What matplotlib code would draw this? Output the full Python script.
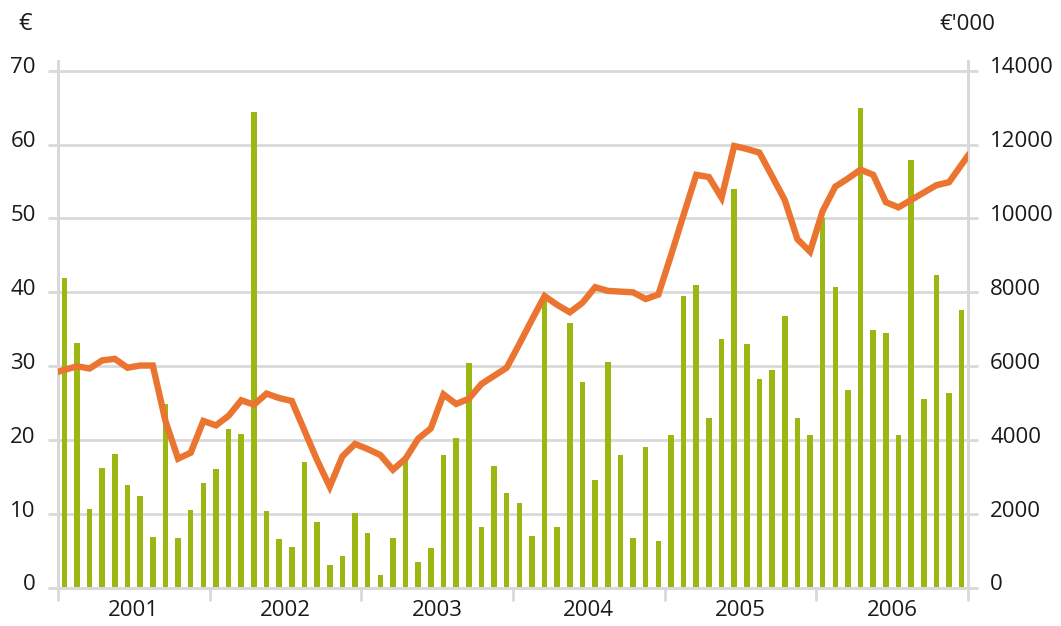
import numpy as np
import matplotlib.pyplot as plt
from matplotlib.transforms import offset_copy

years = ['2001', '2002', '2003', '2004', '2005', '2006']

# monthly volume, EUR '000 (right axis)
volume = [8400, 6640, 2130, 3260, 3620, 2780, 2480, 1390, 4970, 1360, 2120, 2830,
          3230, 4290, 4180, 12890, 2080, 1320, 1120, 3410, 1790, 630, 860, 2040,
          1500, 340, 1350, 3560, 710, 1070, 3590, 4050, 6100, 1650, 3310, 2580,
          2300, 1400, 7790, 1660, 7180, 5580, 2920, 6110, 3600, 1340, 3810, 1260,
          4130, 7900, 8200, 4600, 6730, 10800, 6590, 5650, 5900, 7370, 4600, 4140,
          10010, 8150, 5360, 13000, 6980, 6910, 4140, 11590, 5110, 8460, 5270, 7530]

# monthly price, EUR (left axis)
price = [29.5, 30.0, 29.7, 30.8, 31.0, 29.8, 30.1, 30.1, 22.6, 17.5, 18.3, 22.6,
         22.0, 23.3, 25.4, 24.8, 26.3, 25.7, 25.3, 21.3, 17.3, 13.7, 17.8, 19.5,
         18.8, 18.0, 16.0, 17.5, 20.2, 21.6, 26.2, 24.9, 25.6, 27.6, 28.7, 29.8,
         33.0, 36.3, 39.5, 38.3, 37.3, 38.6, 40.7, 40.2, 40.1, 40.0, 39.1, 39.7,
         45.0, 50.5, 55.9, 55.6, 52.8, 59.8, 59.4, 58.9, 55.7, 52.5, 47.2, 45.5,
         51.0, 54.3, 55.4, 56.6, 55.9, 52.2, 51.5, 52.5, 53.5, 54.5, 54.9, 57.3]

left_ticks = [0, 10, 20, 30, 40, 50, 60, 70]
right_ticks = [0, 2000, 4000, 6000, 8000, 10000, 12000, 14000]

green = '#9cb712'
orange = '#eb7530'
grey = '#d9d9d9'
plt.rcParams['font.family'] = ['Open Sans', 'DejaVu Sans']

n = len(volume)
x = np.arange(n) + 0.5
# line runs from axis to axis, so carry the end segments out to the edges
lx = np.concatenate([[0], x, [n]])
ly = np.concatenate([[price[0] - 0.5 * (price[1] - price[0])], price,
                     [price[-1] + 0.5 * (price[-1] - price[-2])]])

fig = plt.figure(figsize=(10.61, 6.26), dpi=100)
ax = fig.add_axes([58 / 1061, 38 / 626, 910 / 1061, 527 / 626])
ax2 = ax.twinx()
ax.set_zorder(ax2.get_zorder() + 1)
ax.patch.set_visible(False)

ax2.bar(x, volume, width=0.44, color=green, zorder=2)
ax2.set_ylim(0, 14000 * 71.3 / 70)
ax2.set_yticks(right_ticks)
ax2.yaxis.grid(True, color=grey, linewidth=2)
ax2.set_axisbelow(True)

ax.plot(lx, ly, color=orange, linewidth=4.6, solid_joinstyle='miter', zorder=5)
ax.set_ylim(0, 71.3)
ax.set_xlim(0, n)
ax.set_yticks(left_ticks)

for a in (ax, ax2):
    for s in a.spines.values():
        s.set_color(grey)
        s.set_linewidth(2)
    a.spines['top'].set_visible(False)
    a.tick_params(axis='y', length=7, width=2, color=grey, labelsize=16,
                  labelcolor='#1a1a1a')

ax.tick_params(axis='y', pad=9)
ax2.tick_params(axis='y', pad=9)
for lab in ax.get_yticklabels() + ax2.get_yticklabels():
    lab.set_transform(offset_copy(lab.get_transform(), fig=fig, x=0, y=4, units='points'))

ax.set_xticks(np.arange(0, n + 1, 12))
ax.set_xticklabels([])
ax.set_xticks(np.arange(6, n, 12), minor=True)
ax.set_xticklabels(years, minor=True)
ax.tick_params(axis='x', which='major', length=9, width=2, color=grey)
ax.tick_params(axis='x', which='minor', length=0, pad=9, labelsize=16,
               labelcolor='#1a1a1a')

fig.text(25 / 1061, 1 - 24 / 626, '€', fontsize=17, ha='center', va='center',
         color='#1a1a1a')
fig.text(967 / 1061, 1 - 24 / 626, "€'000", fontsize=16, ha='center', va='center',
         color='#1a1a1a')

fig.savefig('out.png', dpi=100)
